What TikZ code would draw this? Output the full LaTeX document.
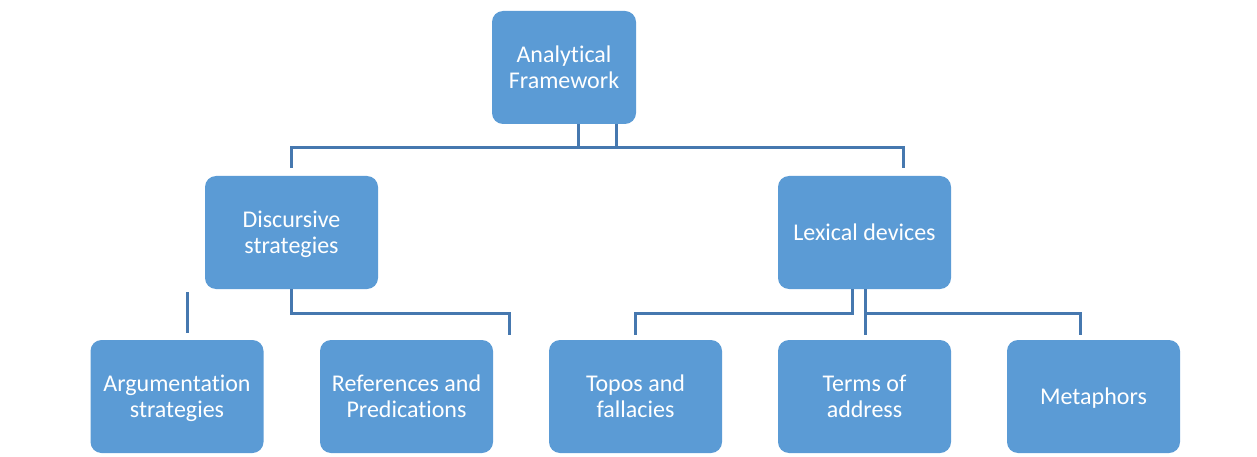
\documentclass[tikz,border=0pt]{standalone}
\usepackage{fontspec}
\setmainfont[RawFeature=-liga]{Carlito}
\definecolor{boxblue}{RGB}{91,155,213}
\definecolor{lineblue}{RGB}{70,120,175}
\begin{document}
\begin{tikzpicture}[x=1pt,y=-1pt,
  box/.style={fill=boxblue,draw=none,rounded corners=11pt,minimum width=173pt,minimum height=113pt,
    text=white,align=center,font=\fontsize{24}{26}\selectfont,inner sep=0pt,text depth=0pt},
  link/.style={draw=lineblue,line width=3pt}]
\useasboundingbox (0,0) rectangle (1257,457);
\node[box,minimum width=144pt] (af) at (564,67.5) {Analytical\\Framework};
\node[box] (ds) at (291.5,232.5) {Discursive\\strategies};
\node[box] (ld) at (864.5,232.5) {Lexical devices};
\node[box] (as) at (177,396.5) {Argumentation\\strategies};
\node[box] (rp) at (406.5,396.5) {References and\\Predications};
\node[box] (tf) at (635.5,396.5) {Topos and\\fallacies};
\node[box] (ta) at (864.5,396.5) {Terms of\\address};
\node[box] (mt) at (1093.5,396.5) {Metaphors};
% top level
\coordinate (dsT) at (291,168);
\coordinate (ldT) at (903,168);
\draw[link] (af.south -| 578,0) -- (578,148) -- (616,148) -- (af.south -| 616,0);
\draw[link] (dsT) -- (291,148) -- (903,148) -- (ldT);
% discursive strategies
\coordinate (asT) at (187,333);
\coordinate (asB) at (187,292);
\coordinate (rpT) at (509,335);
\draw[link] (asB) -- (asT);
\draw[link] (ds.south -| 291,0) -- (291,313) -- (509,313) -- (rpT);
% lexical devices
\coordinate (tfT) at (635,335);
\coordinate (mtT) at (1080,335);
\draw[link] (ld.south -| 852,0) -- (852,313) -- (635,313) -- (tfT);
\draw[link] (ld.south -| 865,0) -- (865,335);
\draw[link] (865,313) -- (1080,313) -- (mtT);
\end{tikzpicture}
\end{document}
